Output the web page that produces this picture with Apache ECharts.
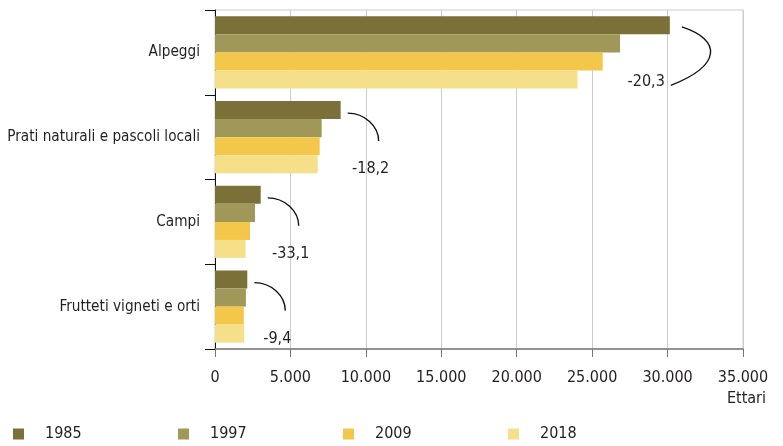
<!DOCTYPE html>
<html><head><meta charset="utf-8">
<script src="https://cdn.jsdelivr.net/npm/echarts@6/dist/echarts.min.js"></script>
<style>html,body{margin:0;padding:0;background:#fff}#c{width:783px;height:446px}</style>
</head><body><div id="c"></div>
<script>
const categories = ['Alpeggi', 'Prati naturali e pascoli locali', 'Campi', 'Frutteti vigneti e orti'];
const years = ['1985', '1997', '2009', '2018'];
const v1985 = [30150, 8330, 3030, 2140];
const v1997 = [26850, 7070, 2650, 2050];
const v2009 = [25700, 6940, 2320, 1910];
const v2018 = [24030, 6810, 2030, 1940];
const changeLabels = ['-20,3', '-18,2', '-33,1', '-9,4'];
const xMin = 0, xMax = 35000, xStep = 5000;
const unitLabel = 'Ettari';

// pick the narrowest available font
const ctx = document.createElement('canvas').getContext('2d');
function w(font, s) { ctx.font = font; return ctx.measureText(s).width; }
const probe = 'Prati naturali e pascoli locali';
const cands = ['Liberation Sans Narrow', 'DejaVu Sans Condensed', 'Roboto Condensed', 'Arial Narrow', 'Liberation Sans'];
let famName = 'Liberation Sans';
for (const c of cands) {
  const a = w('18px "' + c + '", monospace', probe), b = w('18px monospace', probe);
  const a2 = w('18px "' + c + '", serif', probe), b2 = w('18px serif', probe);
  if (a !== b && a2 !== b2) { famName = c; break; }
}
const FONT = '"' + famName + '", sans-serif';
const wide = w('18px ' + FONT, probe);
const LBL = Math.min(18, Math.floor(18 * 194 / wide * 10) / 10);
const AX = Math.min(17, LBL + 0.8);

const TXT = '#231f20';
const colors = ['#7b7138', '#a09858', '#f3c84a', '#f5e089'];
const seriesValues = [v1985, v1997, v2009, v2018];
const CAT_GAP = 0.15;

function fmt(v) { return String(v).replace(/\B(?=(\d{3})+(?!\d))/g, '.'); }

const chart = echarts.init(document.getElementById('c'), null, {renderer: 'canvas'});

const barSeries = years.map((y, k) => ({
  name: y, type: 'bar', data: seriesValues[k],
  itemStyle: {color: colors[k]},
  barGap: '0%', barCategoryGap: (CAT_GAP * 100) + '%',
  animation: false
}));

const largest = v1985.indexOf(Math.max.apply(null, v1985));

const annSeries = {
  type: 'custom', silent: true, animation: false, z: 10, clip: false,
  encode: {x: 0, y: 1},
  data: categories.map((c, i) => [v1985[i], i, v2018[i]]),
  renderItem: function (params, api) {
    const i = params.dataIndex;
    const p = api.coord([api.value(0), i]);
    const bandH = api.size([0, 1])[1];
    const barH = bandH * (1 - CAT_GAP) / 4;
    const yTop = p[1] - 1.5 * barH;
    const yBot = p[1] + 1.5 * barH;
    const lineStyle = {stroke: '#111', fill: null, lineWidth: 1.4};
    const font = AX + 'px ' + FONT;
    if (i === largest) {
      const sx = p[0] + 12, sy = yTop + 1.5;
      const ex = sx - 11, ey = yBot + 6;
      return {type: 'group', children: [
        {type: 'bezierCurve', shape: {x1: sx, y1: sy, x2: ex, y2: ey, cpx1: sx + 40, cpy1: sy + 13, cpx2: ex + 51, cpy2: ey - 20}, style: lineStyle},
        {type: 'text', style: {text: changeLabels[i], x: ex - 6, y: yBot + 2, align: 'right', verticalAlign: 'middle', font: font, fill: TXT}}
      ]};
    }
    const sx = p[0] + 7, sy = yTop + 3;
    const ex = sx + 31, ey = sy + 28;
    return {type: 'group', children: [
      {type: 'bezierCurve', shape: {x1: sx, y1: sy, x2: ex, y2: ey, cpx1: sx + 17, cpy1: sy, cpx2: ex, cpy2: ey - 15}, style: lineStyle},
      {type: 'text', style: {text: changeLabels[i], x: sx + 23, y: sy + 56, align: 'center', verticalAlign: 'middle', font: font, fill: TXT}}
    ]};
  }
};

const yearW = w(AX + 'px ' + FONT, '1985');
const legendGap = Math.max(10, 165 - 11 - 5 - 16 - yearW);

chart.setOption({
  animation: false,
  backgroundColor: '#fff',
  textStyle: {fontFamily: FONT, color: TXT},
  title: {text: unitLabel, right: 17, top: 391, padding: 0,
    textStyle: {fontFamily: FONT, fontSize: AX, fontWeight: 'normal', color: TXT}},
  legend: {
    data: years, left: 13, top: 426, padding: 0, icon: 'rect', itemWidth: 11, itemHeight: 11,
    itemGap: legendGap, selectedMode: false,
    textStyle: {fontFamily: FONT, fontSize: AX, color: TXT, padding: [0, 0, 0, 16]}
  },
  grid: {left: 215, right: 40, top: 10, bottom: 97, show: true, borderColor: '#cccccc', borderWidth: 1,
    containLabel: false, outerBoundsMode: 'none'},
  xAxis: {
    type: 'value', min: xMin, max: xMax, interval: xStep,
    axisLine: {show: true, lineStyle: {color: '#777777', width: 1.5}},
    axisTick: {show: true, length: 8, lineStyle: {color: '#777777'}},
    splitLine: {show: true, lineStyle: {color: '#cccccc', width: 1}},
    axisLabel: {formatter: fmt, fontFamily: FONT, fontSize: AX, color: TXT, margin: 21}
  },
  yAxis: {
    type: 'category', data: categories, inverse: true,
    axisLine: {show: true, lineStyle: {color: '#111', width: 1}},
    axisTick: {show: true, length: 10, alignWithLabel: false, lineStyle: {color: '#111'}},
    axisLabel: {fontFamily: FONT, fontSize: LBL, color: TXT, margin: 15}
  },
  series: barSeries.concat([annSeries])
});
</script></body></html>
